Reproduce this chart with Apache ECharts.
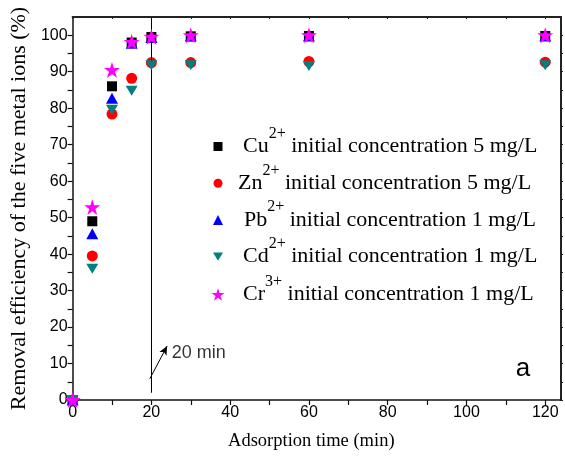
<!DOCTYPE html>
<html>
<head>
<meta charset="utf-8">
<title>Removal efficiency vs adsorption time</title>
<script src="https://cdn.jsdelivr.net/npm/echarts@6/dist/echarts.min.js"></script>
<style>
  html, body { margin: 0; padding: 0; background: #fff; }
  #chart { width: 565px; height: 459px; }
</style>
</head>
<body>
<div id="chart"></div>
<script>
// Adsorption time (min)
const times = [0, 5, 10, 15, 20, 30, 60, 120];

// Removal efficiency (%) for each metal ion
const cuRemoval = [0, 49.0, 86.0, 98.0, 99.5, 99.7, 99.8, 99.8];
const znRemoval = [0, 39.5, 78.4, 88.2, 92.5, 92.5, 92.8, 92.6];
const pbRemoval = [0, 45.6, 82.7, 97.8, 99.4, 99.8, 99.8, 99.8];
const cdRemoval = [0, 36.0, 79.6, 84.8, 91.8, 91.8, 91.6, 91.8];
const crRemoval = [0, 52.9, 90.5, 98.2, 99.6, 100.0, 100.0, 100.0];

// Legend text parts
const ionNames = ['Cu', 'Zn', 'Pb', 'Cd', 'Cr'];
const ionCharges = ['2+', '2+', '2+', '2+', '3+'];
const initialConc = ['5 mg/L', '5 mg/L', '1 mg/L', '1 mg/L', '1 mg/L'];

// Axis ticks
const xTickLabels = [0, 20, 40, 60, 80, 100, 120];
const xTickMarks = [0, 10, 20, 30, 40, 50, 60, 70, 80, 90, 100, 110, 120];
const yTickLabels = [0, 10, 20, 30, 40, 50, 60, 70, 80, 90, 100];
const yTickMarks = [0, 5, 10, 15, 20, 25, 30, 35, 40, 45, 50, 55, 60, 65, 70, 75, 80, 85, 90, 95, 100];

// Equilibrium marker at 20 min and its arrow annotation
const equilibriumTime = 20;
const equilibriumSpan = [2, 104.6];
const arrowFrom = [19.6, 5.8];
const arrowTo = [24.0, 14.8];
const arrowNote = [25.2, 13.0];
const arrowNoteText = '20 min';

const serif = 'Liberation Serif, Times New Roman, serif';
const sans = 'Liberation Sans, Arial, sans-serif';

const starPath = 'path://M50,0 L61.2,34.5 L97.6,34.5 L68.2,55.9 L79.4,90.5 L50,69.1 L20.6,90.5 L31.8,55.9 L2.4,34.5 L38.8,34.5 Z';
const downTriPath = 'path://M0,0 L12,0 L6,10 Z';

const seriesDefs = [
  { data: cuRemoval, color: '#000000', symbol: 'rect', size: 10, legendSize: 9 },
  { data: znRemoval, color: '#ff0000', symbol: 'circle', size: 11, legendSize: 9 },
  { data: pbRemoval, color: '#0000ff', symbol: 'triangle', size: [12, 11], legendSize: 10 },
  { data: cdRemoval, color: '#008080', symbol: downTriPath, size: [12, 10], legendSize: 10 },
  { data: crRemoval, color: '#ff00ff', symbol: starPath, size: 16, legendSize: 13 }
];

const seriesNames = ionNames.map((n, i) => n + ionCharges[i]);

const series = seriesDefs.map((d, i) => ({
  name: seriesNames[i],
  type: 'scatter',
  symbol: d.symbol,
  symbolSize: d.size,
  itemStyle: { color: d.color, opacity: 1 },
  data: times.map((t, k) => [t, d.data[k]]),
  z: 2 + i
}));

// Vertical 20 min line, arrow and its note
series.push({
  name: 'guide',
  type: 'line',
  data: [],
  z: 20,
  silent: true,
  markLine: {
    silent: true,
    animation: false,
    label: { show: false },
    lineStyle: { color: '#000', width: 1, type: 'solid' },
    data: [
      [
        { coord: [equilibriumTime, equilibriumSpan[0]], symbol: 'none' },
        { coord: [equilibriumTime, equilibriumSpan[1]], symbol: 'none' }
      ],
      [
        { coord: arrowFrom, symbol: 'none' },
        { coord: arrowTo, symbol: 'arrow', symbolSize: [6, 9] }
      ]
    ]
  }
});
series.push({
  name: 'note',
  type: 'scatter',
  symbolSize: 0,
  silent: true,
  z: 20,
  data: [arrowNote],
  label: {
    show: true,
    position: 'right',
    distance: 0,
    formatter: arrowNoteText,
    fontFamily: sans,
    fontSize: 18,
    color: '#000'
  }
});

// One legend block per row so every row sits on its own baseline
const legendLineHeight = 42;
const legendIconCenterX = 218;
const legendRowCenters = [146.5, 183.3, 220, 256.7, 294.5];
const legendTextStarts = [243, 238, 244, 243, 243];
const legends = seriesNames.map((name, i) => {
  const s = seriesDefs[i].legendSize;
  const left = legendIconCenterX - s / 2;
  const gap = Math.max(0, legendTextStarts[i] - (left + s + 5));
  return {
    data: [name],
    orient: 'vertical',
    left: left,
    top: legendRowCenters[i] - legendLineHeight / 2,
    padding: 0,
    itemWidth: s,
    itemHeight: s,
    selectedMode: false,
    formatter: () => '{g| }{b|' + ionNames[i] + '}{s|' + ionCharges[i] + '}{b| initial concentration ' + initialConc[i] + '}',
    textStyle: {
      color: '#000',
      fontFamily: serif,
      rich: {
        g: { width: gap, fontSize: 2, lineHeight: legendLineHeight },
        b: { fontFamily: serif, fontSize: 22, lineHeight: legendLineHeight, verticalAlign: 'middle', color: '#000' },
        s: { fontFamily: serif, fontSize: 16, lineHeight: 16, verticalAlign: 'top', color: '#000' }
      }
    }
  };
});

const axisLineStyle = { color: '#111', width: 1.5 };

const option = {
  animation: false,
  backgroundColor: '#fff',
  grid: { left: 70, right: 4, top: 17, bottom: 59, containLabel: false },
  legend: legends,
  xAxis: [
    {
      type: 'value',
      min: 0,
      max: 124,
      position: 'bottom',
      name: 'Adsorption time (min)',
      nameLocation: 'middle',
      nameGap: 32,
      nameTextStyle: { fontFamily: serif, fontSize: 18.5, color: '#000', padding: [0, 11, 0, 0] },
      axisLine: { show: true, onZero: false, lineStyle: axisLineStyle },
      axisTick: { show: true, inside: false, length: 5, customValues: xTickMarks, lineStyle: { color: '#111', width: 1.2 } },
      axisLabel: { customValues: xTickLabels, fontFamily: sans, fontSize: 16, color: '#000', margin: 5 },
      splitLine: { show: false }
    },
    {
      type: 'value',
      min: 0,
      max: 124,
      position: 'top',
      axisLine: { show: true, onZero: false, lineStyle: { color: '#222', width: 2 } },
      axisTick: { show: true, inside: true, length: 2, customValues: xTickMarks, lineStyle: { color: '#222', width: 1 } },
      axisLabel: { show: false },
      splitLine: { show: false }
    }
  ],
  yAxis: [
    {
      type: 'value',
      min: 0,
      max: 105,
      position: 'left',
      name: 'Removal efficiency of the five metal ions (%)',
      nameLocation: 'middle',
      nameGap: 42,
      nameTextStyle: { fontFamily: serif, fontSize: 22, color: '#000' },
      axisLine: { show: true, onZero: false, lineStyle: axisLineStyle },
      axisTick: { show: true, inside: false, length: 5, customValues: yTickMarks, lineStyle: { color: '#111', width: 1.2 } },
      axisLabel: { customValues: yTickLabels, fontFamily: sans, fontSize: 16, color: '#000', margin: 5 },
      splitLine: { show: false }
    },
    {
      type: 'value',
      min: 0,
      max: 105,
      position: 'right',
      axisLine: { show: true, onZero: false, lineStyle: { color: '#222', width: 2 } },
      axisTick: { show: true, inside: false, length: 2, customValues: yTickMarks, lineStyle: { color: '#222', width: 1 } },
      axisLabel: { show: false },
      splitLine: { show: false }
    }
  ],
  graphic: [
    {
      type: 'text',
      x: 523,
      y: 369,
      style: { text: 'a', fontFamily: sans, fontSize: 26, fill: '#000', align: 'center', verticalAlign: 'middle' }
    }
  ],
  series: series
};

const chart = echarts.init(document.getElementById('chart'), null, { renderer: 'canvas' });
chart.setOption(option);
</script>
</body>
</html>
